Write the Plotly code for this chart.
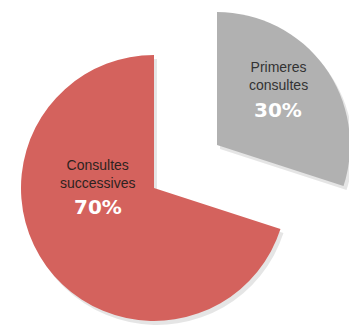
import plotly.graph_objects as go

# slice data (grey first so the red one ends up on the left, counterclockwise from 12 o'clock)
labels = ["Primeres consultes", "Consultes successives"]
label_lines = ["Primeres<br>consultes", "Consultes<br>successives"]
values = [30, 70]
colors = ["#B1B1B1", "#D4625D"]
name_colors = ["#333333", "#2E2220"]

CLEAR = "rgba(0,0,0,0)"


def slice_trace(keep, domain, shadow=False):
    # one pie per slice so the grey one can sit far out to the upper right
    if shadow:
        cols = ["rgba(0,0,0,0.10)" if i == keep else CLEAR for i in range(len(values))]
    else:
        cols = [c if i == keep else CLEAR for i, c in enumerate(colors)]
    return go.Pie(
        labels=labels,
        values=values,
        sort=False,
        direction="counterclockwise",
        rotation=0,
        marker=dict(colors=cols, line=dict(width=0)),
        textinfo="none",
        domain=domain,
        hoverinfo="skip" if shadow else "label+percent",
        showlegend=False,
    )


# page body adds 8px offset, domains are shifted to compensate
grey_dom = dict(x=[0.2129, 0.9580], y=[0.1818, 0.9879])
red_dom = dict(x=[0.0364, 0.7815], y=[0.0515, 0.8576])
grey_sh = dict(x=[0.2213, 0.9664], y=[0.1697, 0.9758])
red_sh = dict(x=[0.0448, 0.7899], y=[0.0394, 0.8455])

fig = go.Figure()
fig.add_trace(slice_trace(1, red_sh, shadow=True))
fig.add_trace(slice_trace(0, grey_sh, shadow=True))
fig.add_trace(slice_trace(1, red_dom))
fig.add_trace(slice_trace(0, grey_dom))

# slice labels: name lines and the percentage below
total = sum(values)
name_pos = [(0.759, 0.794), (0.252, 0.497)]
pct_pos = [(0.756, 0.691), (0.252, 0.397)]
for i in range(len(values)):
    pct = round(100 * values[i] / total)
    fig.add_annotation(
        x=name_pos[i][0], y=name_pos[i][1],
        xref="paper", yref="paper",
        xanchor="center", yanchor="middle",
        showarrow=False, align="center",
        text=label_lines[i],
        font=dict(family="Liberation Sans, Arial", size=14, color=name_colors[i]),
    )
    fig.add_annotation(
        x=pct_pos[i][0], y=pct_pos[i][1],
        xref="paper", yref="paper",
        xanchor="center", yanchor="middle",
        showarrow=False,
        text=f"<b>{pct}%</b>",
        font=dict(family="DejaVu Sans", size=20, color="white"),
    )

fig.update_layout(
    width=357,
    height=330,
    margin=dict(l=0, r=0, t=0, b=0),
    paper_bgcolor="#FFFFFF",
    plot_bgcolor="#FFFFFF",
    showlegend=False,
)

fig.write_html("out.html")
